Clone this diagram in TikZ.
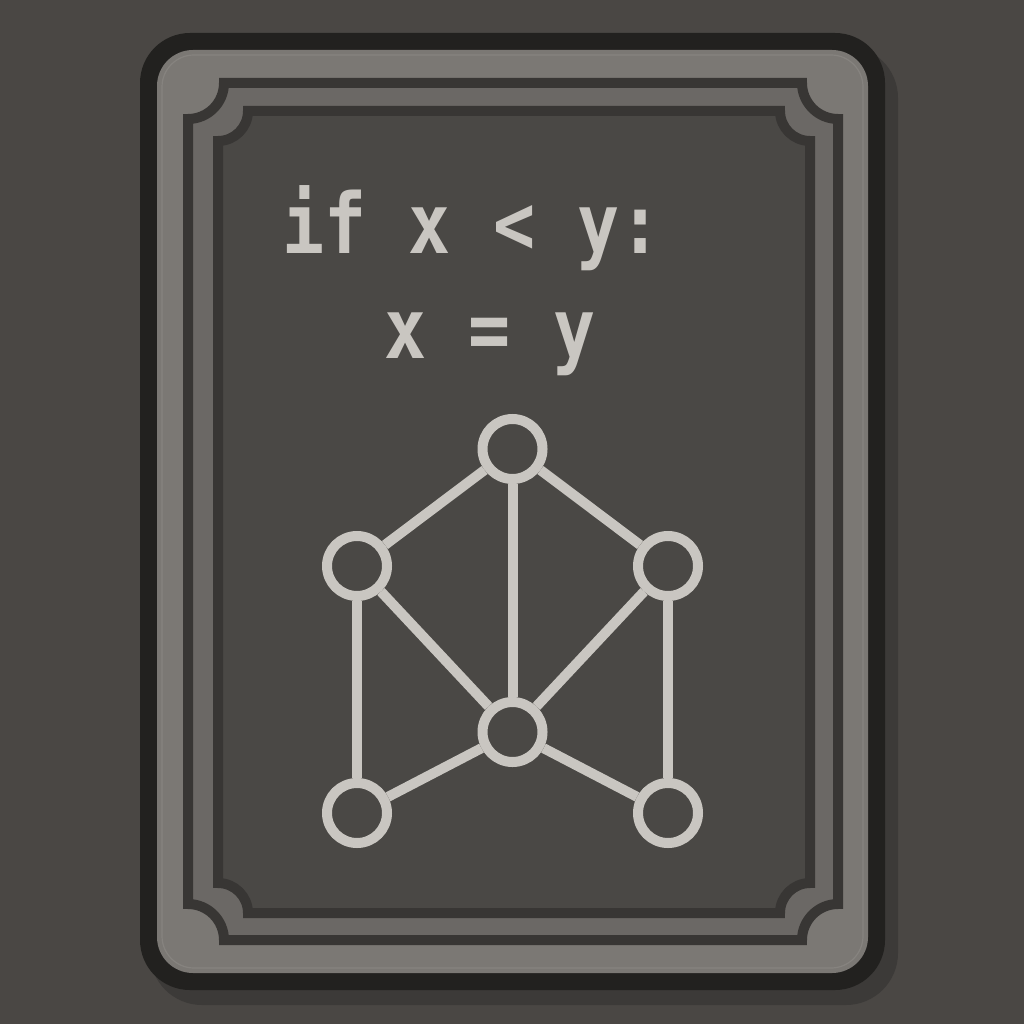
\documentclass[tikz,border=0pt]{standalone}
\usepackage{fontspec}
\usepackage{graphicx}
\newfontfamily\codefont{DejaVu Sans Mono}
\definecolor{bgc}{HTML}{4A4744}
\definecolor{shadowc}{HTML}{3C3A38}
\definecolor{outerc}{HTML}{22211F}
\definecolor{framec}{HTML}{7B7874}
\definecolor{bandc}{HTML}{6B6865}
\definecolor{linec}{HTML}{383634}
\definecolor{panelc}{HTML}{4A4845}
\definecolor{inkc}{HTML}{C9C6C1}
\tikzset{
  vertex/.style={circle, draw=inkc, fill=panelc, line width=10pt, minimum size=60pt, inner sep=0pt},
  edge/.style={draw=inkc, line width=10pt},
  codetext/.style={text=inkc, font=\codefont\bfseries\fontsize{76}{80}\selectfont, inner sep=0pt, anchor=base},
  frameline/.style={draw=linec, line width=10pt}
}
\begin{document}
\begin{tikzpicture}[x=1pt,y=-1pt]
\useasboundingbox (0,0) rectangle (1024,1024);
\fill[bgc] (0,0) rectangle (1024,1024);
% card
\fill[shadowc, rounded corners=52pt] (150,46) rectangle (898,1005);
\fill[outerc, rounded corners=50pt] (140,33) rectangle (885,990);
\fill[framec, rounded corners=36pt] (157,50) rectangle (868,973);
\draw[draw=framec!92!white, line width=1.2pt, rounded corners=32pt] (162,55) rectangle (863,968);
% scalloped frame 1
\fill[bandc] (224,83) -- (802,83) arc[start angle=180,end angle=90,radius=36] -- (838,904) arc[start angle=270,end angle=180,radius=36] -- (224,940) arc[start angle=0,end angle=-90,radius=36] -- (188,119) arc[start angle=90,end angle=0,radius=36] -- cycle;
% scalloped frame 2 (panel)
\fill[panelc] (248,111) -- (780,111) arc[start angle=180,end angle=90,radius=30] -- (810,883) arc[start angle=270,end angle=180,radius=30] -- (248,913) arc[start angle=0,end angle=-90,radius=30] -- (218,141) arc[start angle=90,end angle=0,radius=30] -- cycle;
\draw[frameline] (224,83) -- (802,83) arc[start angle=180,end angle=90,radius=36] -- (838,904) arc[start angle=270,end angle=180,radius=36] -- (224,940) arc[start angle=0,end angle=-90,radius=36] -- (188,119) arc[start angle=90,end angle=0,radius=36] -- cycle;
\draw[frameline] (248,111) -- (780,111) arc[start angle=180,end angle=90,radius=30] -- (810,883) arc[start angle=270,end angle=180,radius=30] -- (248,913) arc[start angle=0,end angle=-90,radius=30] -- (218,141) arc[start angle=90,end angle=0,radius=30] -- cycle;
% code
\node[codetext] (line1) at (472,253) {\scalebox{0.92}[1.1]{if x < y:}};
\node[codetext] (line2) at (490,358) {\scalebox{0.92}[1.1]{x = y}};
% graph
\node[vertex] (t) at (512.5,449) {};
\node[vertex] (lm) at (357,566) {};
\node[vertex] (rm) at (668,566) {};
\node[vertex] (c) at (512.5,732) {};
\node[vertex] (bl) at (357,813) {};
\node[vertex] (br) at (668,813) {};
\draw[edge] (t) -- (lm);
\draw[edge] (t) -- (rm);
\draw[edge] (t) -- (c);
\draw[edge] (lm) -- (c);
\draw[edge] (rm) -- (c);
\draw[edge] (lm) -- (bl);
\draw[edge] (rm) -- (br);
\draw[edge] (c) -- (bl);
\draw[edge] (c) -- (br);
\end{tikzpicture}
\end{document}
